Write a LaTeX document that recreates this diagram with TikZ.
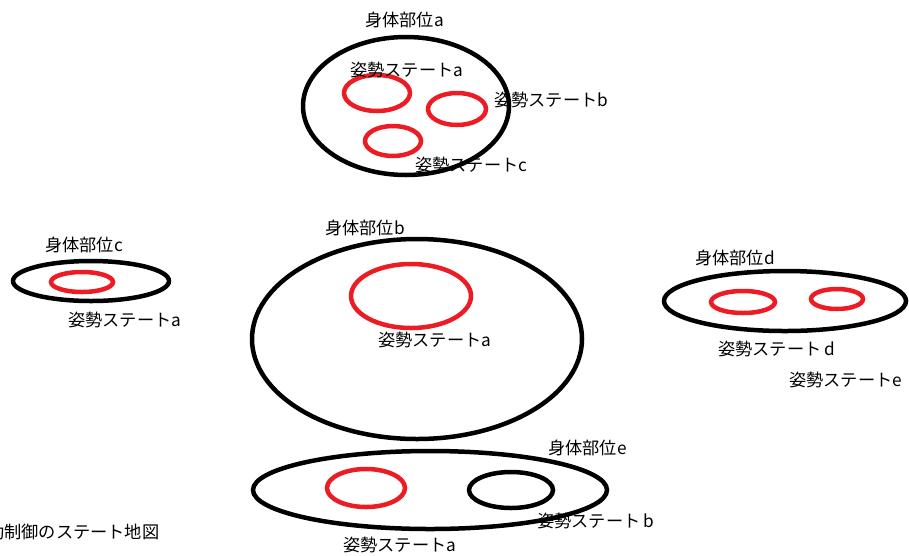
\documentclass[tikz,border=0pt]{standalone}
\usepackage{fontspec}
\newfontfamily\jp{Noto Sans CJK JP}
\definecolor{paintred}{RGB}{237,28,36}
\tikzset{
  body/.style={draw=black, line width=4.5pt},
  posture/.style={draw=paintred, line width=4.5pt},
  lbl/.style={anchor=west, inner sep=0pt, font=\jp\fontsize{17.2pt}{19pt}\selectfont, text=black}
}
\begin{document}
\begin{tikzpicture}[x=1pt,y=-1pt]
\useasboundingbox (0,0) rectangle (909,555);
% body a
\coordinate (Ba) at (406,106);
\draw[body] (Ba) ellipse (103 and 69);
\draw[posture] (377,93) ellipse (33 and 18);
\draw[posture] (457,109) ellipse (29 and 16);
\draw[posture] (393,141) ellipse (28 and 15);
\node[lbl] (la) at (365,20) {身体部位a};
\node[lbl] (laa) at (350,70) {姿勢ステートa};
\node[lbl] (lab) at (494,100) {姿勢ステートb};
\node[lbl] (lac) at (415,165) {姿勢ステートc};
% body c
\draw[body] (91,281) ellipse (78 and 20);
\draw[posture] (82,282) ellipse (31 and 10);
\node[lbl] (lc) at (45,245) {身体部位c};
\node[lbl] (lca) at (68,320) {姿勢ステートa};
% body b
\draw[body] (417,339) ellipse (165 and 100);
\draw[posture] (411,296) ellipse (60 and 32);
\node[lbl] (lb) at (325,228) {身体部位b};
\node[lbl] (lba) at (378,340) {姿勢ステートa};
% body d
\draw[body] (785,301) ellipse (121 and 30);
\draw[posture] (743,302) ellipse (32 and 11);
\draw[posture] (837,299) ellipse (26 and 10);
\node[lbl] (ld) at (695,258) {身体部位d};
\node[lbl] (ldd) at (718,349) {姿勢ステート\,d};
\node[lbl] (lde) at (789,380) {姿勢ステートe};
% body e
\draw[body] (430,490) ellipse (177 and 39);
\draw[posture] (366,488) ellipse (39 and 19);
\draw[body] (511,490) ellipse (42 and 18);
\node[lbl] (le) at (548,448) {身体部位e};
\node[lbl] (leb) at (537,521) {姿勢ステート\,b};
\node[lbl] (lea) at (343,545) {姿勢ステートa};
% caption (cut at the left edge, as in the reference)
\node[lbl] (cap) at (-13,532) {動制御のステート地図};
\end{tikzpicture}
\end{document}
